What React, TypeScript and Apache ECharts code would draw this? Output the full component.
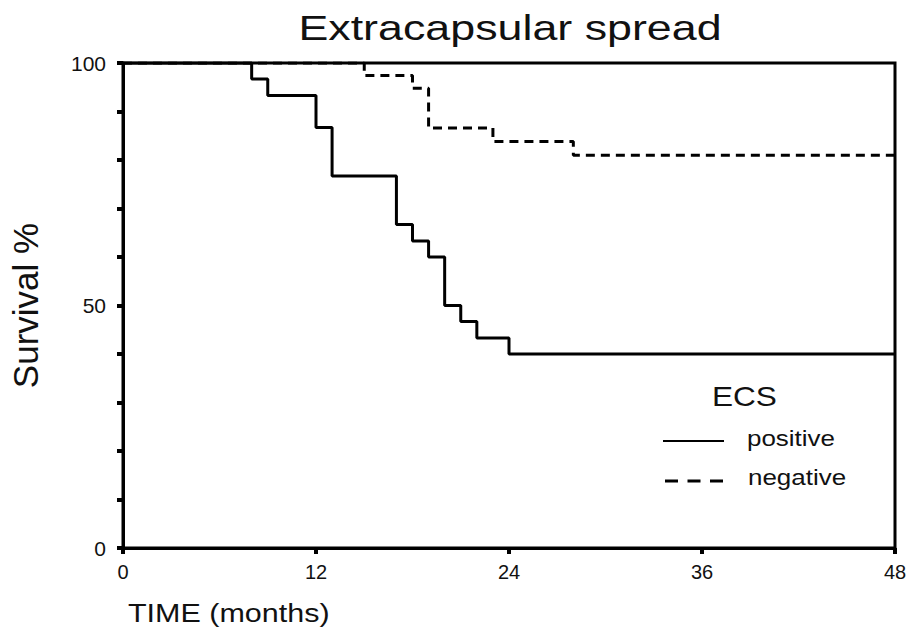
import React, { useEffect, useRef } from "react";
import * as echarts from "echarts";

const positiveTimes = [0, 8, 9, 12, 13, 17, 18, 19, 20, 21, 22, 24, 48];
const positiveSurvival = [100, 96.7, 93.3, 86.7, 76.7, 66.7, 63.3, 60, 50, 46.7, 43.3, 40, 40];
const negativeTimes = [0, 15, 18, 19, 23, 28, 48];
const negativeSurvival = [100, 97.4, 94.8, 86.6, 83.8, 81, 81];
const xTicks = [0, 12, 24, 36, 48];
const yLabelTicks = [0, 50, 100];
const seriesNames = ["positive", "negative"];

const FONT = "Liberation Sans, Arial, Helvetica, sans-serif";

export default function App() {
  const ref = useRef<HTMLDivElement>(null);
  useEffect(() => {
    const chart = echarts.init(ref.current!, null, { renderer: "svg" });
    const pos = positiveTimes.map((t, i) => [t, positiveSurvival[i]]);
    const neg = negativeTimes.map((t, i) => [t, negativeSurvival[i]]);
    chart.setOption({
      animation: false,
      backgroundColor: "#ffffff",
      textStyle: { fontFamily: FONT },
      grid: {
        left: 122,
        right: 17,
        top: 63,
        bottom: 87,
        show: true,
        borderColor: "#000",
        borderWidth: 3,
      },
      graphic: [
        {
          type: "text",
          x: 510,
          y: 11,
          scaleX: 1.28,
          style: {
            text: "Extracapsular spread",
            font: `35px ${FONT}`,
            fill: "#111",
            textAlign: "center",
            textVerticalAlign: "top",
          },
        },
        {
          type: "text",
          x: 128,
          y: 601,
          scaleX: 1.22,
          style: {
            text: "TIME (months)",
            font: `25px ${FONT}`,
            fill: "#111",
            textAlign: "left",
            textVerticalAlign: "top",
          },
        },
        {
          type: "text",
          x: 712,
          y: 383,
          scaleX: 1.17,
          style: { text: "ECS", font: `27px ${FONT}`, fill: "#111", textAlign: "left", textVerticalAlign: "top" },
        },
        {
          type: "line",
          shape: { x1: 663, y1: 441, x2: 724, y2: 441 },
          style: { stroke: "#000", lineWidth: 2 },
        },
        {
          type: "text",
          x: 747,
          y: 427,
          scaleX: 1.18,
          style: { text: seriesNames[0], font: `22px ${FONT}`, fill: "#111", textAlign: "left", textVerticalAlign: "top" },
        },
        {
          type: "line",
          shape: { x1: 665, y1: 481, x2: 723, y2: 481 },
          style: { stroke: "#000", lineWidth: 3, lineDash: [13, 9.5] },
        },
        {
          type: "text",
          x: 748,
          y: 466,
          scaleX: 1.18,
          style: { text: seriesNames[1], font: `22px ${FONT}`, fill: "#111", textAlign: "left", textVerticalAlign: "top" },
        },
      ],
      xAxis: {
        type: "value",
        min: 0,
        max: 48,
        interval: 12,
        axisLine: { show: true, lineStyle: { color: "#000", width: 3 } },
        axisTick: { show: true, length: 6, lineStyle: { color: "#000", width: 4 } },
        axisLabel: {
          fontFamily: FONT,
          fontSize: 20,
          color: "#111",
          margin: 14,
          formatter: (v: number) => (xTicks.includes(v) ? String(v) : ""),
        },
        splitLine: { show: false },
      },
      yAxis: {
        type: "value",
        min: 0,
        max: 100,
        interval: 10,
        name: "Survival %",
        nameLocation: "middle",
        nameGap: 80,
        nameTextStyle: { fontFamily: FONT, fontSize: 35, color: "#111" },
        axisLine: { show: true, lineStyle: { color: "#000", width: 3 } },
        axisTick: { show: true, length: 6, lineStyle: { color: "#000", width: 4 } },
        axisLabel: {
          fontFamily: FONT,
          fontSize: 21,
          color: "#111",
          margin: 17,
          formatter: (v: number) => (yLabelTicks.includes(v) ? String(v) : ""),
        },
        splitLine: { show: false },
      },
      series: [
        {
          name: seriesNames[0],
          type: "line",
          step: "end",
          symbol: "none",
          data: pos,
          lineStyle: { color: "#000", width: 3, type: "solid" },
          itemStyle: { color: "#000" },
        },
        {
          name: seriesNames[1],
          type: "line",
          step: "end",
          symbol: "none",
          data: neg,
          lineStyle: { color: "#000", width: 3, type: [9, 6] },
          itemStyle: { color: "#000" },
        },
      ],
    });
    return () => chart.dispose();
  }, []);
  return <div ref={ref} style={{ width: 912, height: 635, position: "absolute", left: 0, top: 0 }} />;
}
